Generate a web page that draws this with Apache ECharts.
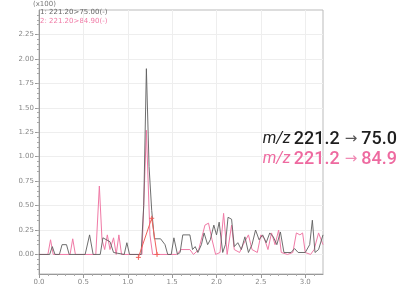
<!DOCTYPE html>
<html>
<head>
<meta charset="utf-8">
<script src="https://cdn.jsdelivr.net/npm/echarts@6/dist/echarts.min.js"></script>
<style>
  html, body { margin: 0; padding: 0; background: #fff; }
  #chart { width: 403px; height: 291px; }
</style>
</head>
<body>
<div id="chart"></div>
<script>
// retention time (min) and intensity (x100)
const xTicks = [0, 0.5, 1.0, 1.5, 2.0, 2.5, 3.0];
const yTicks = [0, 0.25, 0.5, 0.75, 1.0, 1.25, 1.5, 1.75, 2.0, 2.25];

const trace75 = [
  [0, 0], [0.12, 0], [0.15, 0.08], [0.18, 0], [0.23, 0], [0.26, 0.1], [0.31, 0.1], [0.34, 0],
  [0.52, 0], [0.57, 0.2], [0.61, 0], [0.69, 0], [0.72, 0.17], [0.76, 0.15], [0.8, 0.13],
  [0.84, 0.02], [0.96, 0], [0.99, 0.12], [1.02, 0], [1.15, 0], [1.18, 0.5], [1.21, 1.9],
  [1.24, 0.9], [1.27, 0.45], [1.3, 0.16], [1.37, 0.16], [1.42, 0.1], [1.45, 0], [1.49, 0],
  [1.52, 0.17], [1.56, 0], [1.59, 0.02], [1.62, 0.2], [1.7, 0.2], [1.73, 0.05], [1.76, 0.08],
  [1.79, 0.02], [1.83, 0.1], [1.86, 0.22], [1.9, 0.1], [1.93, 0.15], [1.97, 0.3], [2.0, 0.2],
  [2.03, 0.33], [2.07, 0.02], [2.1, 0.1], [2.13, 0.38], [2.17, 0.36], [2.2, 0.08], [2.24, 0.12],
  [2.28, 0.05], [2.32, 0.18], [2.36, 0.02], [2.4, 0.1], [2.44, 0.25], [2.48, 0.15], [2.52, 0.2],
  [2.56, 0.12], [2.6, 0.22], [2.64, 0.18], [2.68, 0.1], [2.72, 0.23], [2.76, 0.02], [2.84, 0.02],
  [2.88, 0.06], [2.92, 0.02], [3.0, 0.02], [3.05, 0.1], [3.08, 0.35], [3.11, 0.02], [3.15, 0.05],
  [3.2, 0.2]
];

const trace849 = [
  [0, 0], [0.1, 0], [0.13, 0.15], [0.16, 0], [0.35, 0], [0.38, 0.16], [0.41, 0], [0.64, 0],
  [0.68, 0.7], [0.71, 0.15], [0.74, 0.05], [0.77, 0.2], [0.8, 0.05], [0.84, 0.17], [0.87, 0],
  [0.9, 0.2], [0.93, 0], [1.16, 0], [1.21, 1.27], [1.25, 0.2], [1.28, 0], [1.55, 0], [1.6, 0.05],
  [1.7, 0.05], [1.74, 0], [1.8, 0.05], [1.87, 0.3], [1.91, 0.32], [1.95, 0.15], [1.99, 0],
  [2.04, 0.02], [2.08, 0.42], [2.12, 0], [2.17, 0.3], [2.2, 0.05], [2.26, 0.02], [2.3, 0.1],
  [2.36, 0.2], [2.4, 0.05], [2.46, 0.02], [2.5, 0.2], [2.54, 0.16], [2.58, 0.05], [2.62, 0.22],
  [2.66, 0.1], [2.7, 0.25], [2.73, 0.02], [2.8, 0], [2.86, 0.02], [2.9, 0.22], [2.94, 0.2],
  [2.97, 0.22], [3.0, 0.02], [3.06, 0], [3.1, 0.05], [3.15, 0.22], [3.2, 0.1]
];

// integration baseline drawn on the 84.9 trace
const baseline849 = [[1.12, -0.03], [1.27, 0.37], [1.33, 0]];

const gray = '#5e5e5e';
const pink = '#f07aa6';

const chart = echarts.init(document.getElementById('chart'), null, { renderer: 'canvas' });

function label(color, arrowColor, product) {
  return {
    text: '{i|m/z} {b|221.2}{a|→}{b|' + product + '}',
    rich: {
      i: { fontStyle: 'italic', fontSize: 16, fill: color, fontFamily: 'Roboto' },
      b: { fontSize: 18, fontWeight: 500, fill: color, fontFamily: 'Roboto' },
      a: { fontSize: 15, fill: arrowColor, fontFamily: 'DejaVu Sans', padding: [0, 4, 0, 5] }
    }
  };
}

chart.setOption({
  animation: false,
  backgroundColor: '#fff',
  grid: {
    left: 39, right: 80, top: 10, bottom: 17,
    show: true, borderColor: '#bbb', borderWidth: 1
  },
  xAxis: {
    type: 'value', min: 0, max: 3.2, interval: 0.5,
    axisLine: { show: true, onZero: false, lineStyle: { color: '#999' } },
    axisTick: { show: true, length: 4, customValues: xTicks, lineStyle: { color: '#999' } },
    minorTick: { show: true, splitNumber: 5, length: 2, lineStyle: { color: '#aaa' } },
    axisLabel: {
      customValues: xTicks, color: '#888', fontSize: 7, margin: 5,
      fontFamily: 'DejaVu Sans', formatter: v => v.toFixed(1)
    },
    splitLine: { show: true, lineStyle: { color: '#eee' } }
  },
  yAxis: {
    type: 'value', min: -0.2, max: 2.5, interval: 0.25,
    axisLine: { show: true, lineStyle: { color: '#999' } },
    axisTick: { show: true, length: 4, customValues: yTicks, lineStyle: { color: '#999' } },
    minorTick: { show: true, splitNumber: 5, length: 2, lineStyle: { color: '#aaa' } },
    axisLabel: {
      customValues: yTicks, color: '#888', fontSize: 7, margin: 5,
      fontFamily: 'DejaVu Sans', formatter: v => v.toFixed(2)
    },
    splitLine: { show: true, lineStyle: { color: '#eee' } }
  },
  series: [
    {
      type: 'line', data: trace849, showSymbol: false, z: 2,
      lineStyle: { color: pink, width: 1 }
    },
    {
      type: 'line', data: trace75, showSymbol: false, z: 3,
      lineStyle: { color: gray, width: 1, opacity: 0.9 }
    },
    {
      type: 'line', data: baseline849, symbol: 'path://M0,-1L0,1M-1,0L1,0', symbolSize: 5, z: 4,
      lineStyle: { color: '#f0605a', width: 1 }, itemStyle: { color: 'none', borderColor: '#f0605a', borderWidth: 1 }
    }
  ],
  graphic: [
    {
      type: 'text', left: 33, top: 1,
      style: { text: '(x100)', fill: '#777', font: '7px "DejaVu Sans"' }
    },
    {
      type: 'text', left: 40, top: 9,
      style: { text: '1: 221.20>75.00(-)', fill: '#666', font: '7px "DejaVu Sans"' }
    },
    {
      type: 'text', left: 40, top: 18,
      style: { text: '2: 221.20>84.90(-)', fill: pink, font: '7px "DejaVu Sans"' }
    },
    { type: 'text', right: 6, top: 130, z: 10, style: label('#1e1e1e', '#555', '75.0') },
    { type: 'text', right: 6, top: 150, z: 10, style: label('#ee6aa0', '#f08ab4', '84.9') }
  ]
});
</script>
</body>
</html>
